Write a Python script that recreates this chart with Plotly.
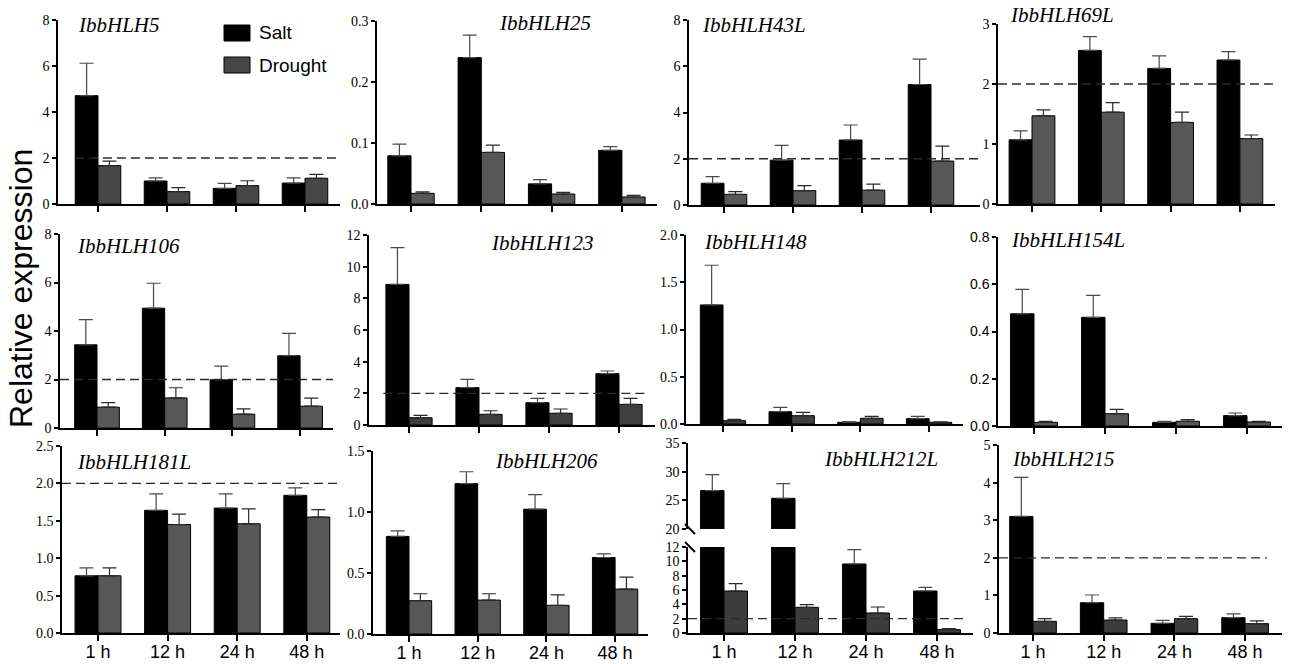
import plotly.graph_objects as go

W, H = 1291, 664

times = ["1 h", "12 h", "24 h", "48 h"]
genes = ["IbbHLH5", "IbbHLH25", "IbbHLH43L", "IbbHLH69L",
         "IbbHLH106", "IbbHLH123", "IbbHLH148", "IbbHLH154L",
         "IbbHLH181L", "IbbHLH206", "IbbHLH212L", "IbbHLH215"]

# ---- data: mean and upper SD ----
IbbHLH5_salt = [4.71, 1.00, 0.68, 0.91]
IbbHLH5_salt_sd = [1.41, 0.14, 0.22, 0.23]
IbbHLH5_drought = [1.67, 0.54, 0.80, 1.12]
IbbHLH5_drought_sd = [0.19, 0.17, 0.21, 0.17]

IbbHLH25_salt = [0.079, 0.240, 0.033, 0.088]
IbbHLH25_salt_sd = [0.019, 0.037, 0.007, 0.006]
IbbHLH25_drought = [0.0175, 0.0846, 0.0164, 0.0115]
IbbHLH25_drought_sd = [0.0025, 0.012, 0.0026, 0.0025]

IbbHLH43L_salt = [0.94, 1.94, 2.81, 5.21]
IbbHLH43L_salt_sd = [0.29, 0.64, 0.65, 1.10]
IbbHLH43L_drought = [0.46, 0.62, 0.64, 1.90]
IbbHLH43L_drought_sd = [0.12, 0.22, 0.26, 0.65]

IbbHLH69L_salt = [1.07, 2.56, 2.26, 2.40]
IbbHLH69L_salt_sd = [0.15, 0.23, 0.21, 0.14]
IbbHLH69L_drought = [1.47, 1.53, 1.36, 1.09]
IbbHLH69L_drought_sd = [0.10, 0.16, 0.17, 0.06]

IbbHLH106_salt = [3.43, 4.94, 1.99, 2.98]
IbbHLH106_salt_sd = [1.04, 1.03, 0.56, 0.92]
IbbHLH106_drought = [0.86, 1.24, 0.57, 0.90]
IbbHLH106_drought_sd = [0.19, 0.42, 0.22, 0.33]

IbbHLH123_salt = [8.88, 2.36, 1.41, 3.24]
IbbHLH123_salt_sd = [2.32, 0.52, 0.27, 0.17]
IbbHLH123_drought = [0.46, 0.67, 0.74, 1.30]
IbbHLH123_drought_sd = [0.15, 0.23, 0.27, 0.38]

IbbHLH148_salt = [1.26, 0.13, 0.018, 0.056]
IbbHLH148_salt_sd = [0.42, 0.046, 0.007, 0.025]
IbbHLH148_drought = [0.035, 0.088, 0.060, 0.018]
IbbHLH148_drought_sd = [0.015, 0.035, 0.021, 0.006]

IbbHLH154L_salt = [0.475, 0.46, 0.0155, 0.044]
IbbHLH154L_salt_sd = [0.103, 0.093, 0.0045, 0.011]
IbbHLH154L_drought = [0.0155, 0.052, 0.020, 0.017]
IbbHLH154L_drought_sd = [0.0045, 0.018, 0.007, 0.003]

IbbHLH181L_salt = [0.765, 1.64, 1.67, 1.84]
IbbHLH181L_salt_sd = [0.105, 0.22, 0.19, 0.10]
IbbHLH181L_drought = [0.765, 1.45, 1.46, 1.55]
IbbHLH181L_drought_sd = [0.105, 0.14, 0.20, 0.10]

IbbHLH206_salt = [0.80, 1.233, 1.023, 0.627]
IbbHLH206_salt_sd = [0.045, 0.097, 0.12, 0.03]
IbbHLH206_drought = [0.273, 0.278, 0.235, 0.368]
IbbHLH206_drought_sd = [0.057, 0.052, 0.085, 0.098]

IbbHLH212L_salt = [26.7, 25.35, 9.63, 5.86]
IbbHLH212L_salt_sd = [2.8, 2.55, 2.0, 0.51]
IbbHLH212L_drought = [5.86, 3.58, 2.79, 0.47]
IbbHLH212L_drought_sd = [1.02, 0.37, 0.84, 0.13]

IbbHLH215_salt = [3.10, 0.805, 0.257, 0.407]
IbbHLH215_salt_sd = [1.04, 0.205, 0.079, 0.103]
IbbHLH215_drought = [0.31, 0.345, 0.38, 0.248]
IbbHLH215_drought_sd = [0.07, 0.055, 0.06, 0.072]

threshold = 2

salt_series = [IbbHLH5_salt, IbbHLH25_salt, IbbHLH43L_salt, IbbHLH69L_salt,
               IbbHLH106_salt, IbbHLH123_salt, IbbHLH148_salt, IbbHLH154L_salt,
               IbbHLH181L_salt, IbbHLH206_salt, IbbHLH212L_salt, IbbHLH215_salt]
salt_sds = [IbbHLH5_salt_sd, IbbHLH25_salt_sd, IbbHLH43L_salt_sd, IbbHLH69L_salt_sd,
            IbbHLH106_salt_sd, IbbHLH123_salt_sd, IbbHLH148_salt_sd, IbbHLH154L_salt_sd,
            IbbHLH181L_salt_sd, IbbHLH206_salt_sd, IbbHLH212L_salt_sd, IbbHLH215_salt_sd]
drought_series = [IbbHLH5_drought, IbbHLH25_drought, IbbHLH43L_drought, IbbHLH69L_drought,
                  IbbHLH106_drought, IbbHLH123_drought, IbbHLH148_drought, IbbHLH154L_drought,
                  IbbHLH181L_drought, IbbHLH206_drought, IbbHLH212L_drought, IbbHLH215_drought]
drought_sds = [IbbHLH5_drought_sd, IbbHLH25_drought_sd, IbbHLH43L_drought_sd, IbbHLH69L_drought_sd,
               IbbHLH106_drought_sd, IbbHLH123_drought_sd, IbbHLH148_drought_sd, IbbHLH154L_drought_sd,
               IbbHLH181L_drought_sd, IbbHLH206_drought_sd, IbbHLH212L_drought_sd, IbbHLH215_drought_sd]

# ---- layout (pixels): x_left, x_right, first_tick, tick_step, y_top, y_bottom ----
geom = [
    (58, 340, 98, 69.0, 20, 204),
    (377, 657, 411, 70.3, 21, 204),
    (689, 980, 724, 69.0, 20, 205),
    (998, 1275, 1032, 69.3, 24, 204),
    (60, 333, 97, 67.7, 234, 428),
    (369, 655, 409, 70.0, 235, 425),
    (686, 963, 723, 68.7, 235, 424),
    (998, 1282, 1034, 71.0, 237, 426),
    (62, 340, 98, 69.6, 446, 633),
    (373, 648, 409, 68.7, 451, 634),
    (688, 973, 724, 71.0, 547, 633),
    (999, 1282, 1033, 70.7, 445, 633),
]
upper11 = (443, 529)  # broken-axis upper part of IbbHLH212L
yax = [  # (max, dtick, tickformat)
    (8, 2, "d"), (0.3, 0.1, ".1f"), (8, 2, "d"), (3, 1, "d"),
    (8, 2, "d"), (12, 2, "d"), (2.0, 0.5, ".1f"), (0.8, 0.2, ".1f"),
    (2.5, 0.5, ".1f"), (1.5, 0.5, ".1f"), (12, 2, "d"), (5, 1, "d"),
]
title_pos = [(76, 25), (497, 23), (700, 25), (1008, 15),
             (75, 246), (489, 243), (702, 242), (1009, 240),
             (75, 462), (493, 461), (822, 459), (1010, 459)]
dash_span = [(0.06, 1.0), None, (0.0, 1.0), (0.0, 1.0),
             (0.0, 1.0), (0.05, 0.97), None, None,
             (0.0, 1.0), None, (0.0, 0.965), (0.0, 0.947)]
drought_color = ["#464646", "#575757", "#575757", "#575757",
                 "#575757", "#3f3f3f", "#3f3f3f", "#575757",
                 "#575757", "#575757", "#3c3c3c", "#3c3c3c"]

SERIF = "Liberation Serif"
SANS = "Liberation Sans"

fig = go.Figure()
layout = dict(width=W, height=H, margin=dict(l=0, r=0, t=0, b=0, pad=0),
              paper_bgcolor="white", plot_bgcolor="white",
              barmode="group", bargap=0.34, bargroupgap=0,
              showlegend=False, shapes=[], annotations=[])


def err(arr, color):
    return dict(type="data", array=arr, arrayminus=[0] * len(arr), symmetric=False,
                color=color, thickness=1.2, width=7)


def add_pair(i, xname, yname):
    fig.add_trace(go.Bar(x=times, y=salt_series[i], name="Salt",
                         marker=dict(color="black", line=dict(color="black", width=1)),
                         error_y=err(salt_sds[i], "#4a4a4a"),
                         xaxis=xname, yaxis=yname))
    fig.add_trace(go.Bar(x=times, y=drought_series[i], name="Drought",
                         marker=dict(color=drought_color[i], line=dict(color="black", width=1)),
                         error_y=err(drought_sds[i], "#2a2a2a"),
                         xaxis=xname, yaxis=yname))


for i in range(12):
    n = i + 1
    x0, x1, t0, s, top, bot = geom[i]
    xr = [(x0 - t0) / s, (x1 - t0) / s]
    ymax, dt, tf = yax[i]
    xname = "x" if n == 1 else f"x{n}"
    yname = "y" if n == 1 else f"y{n}"
    xkey = "xaxis" if n == 1 else f"xaxis{n}"
    ykey = "yaxis" if n == 1 else f"yaxis{n}"
    bottom_row = i >= 8
    layout[xkey] = dict(domain=[x0 / W, x1 / W], range=xr, anchor=yname,
                        type="category", showline=True, linecolor="black", linewidth=2,
                        ticks="outside", ticklen=6, tickwidth=1.5, tickcolor="black",
                        showticklabels=bottom_row, ticklabelstandoff=-5,
                        showgrid=False, zeroline=False, automargin=False,
                        tickfont=dict(family=SANS, size=18, color="black"), fixedrange=True)
    layout[ykey] = dict(domain=[1 - bot / H, 1 - top / H], range=[0, ymax], anchor=xname,
                        tick0=0, dtick=dt, tickformat=tf,
                        showline=True, linecolor="black", linewidth=1.5,
                        ticks="outside", ticklen=4, tickwidth=1.5, tickcolor="black",
                        showgrid=False, zeroline=False, automargin=False,
                        tickfont=dict(family=SANS if n == 8 else SERIF, size=14, color="black"),
                        fixedrange=True)
    add_pair(i, xname, yname)

    if dash_span[i] is not None:
        a, b = dash_span[i]
        layout["shapes"].append(dict(type="line", xref=f"{xname} domain", yref=yname,
                                     x0=a, x1=b, y0=threshold, y1=threshold,
                                     line=dict(color="#2a2a2a", width=1.3, dash="9px,5px"),
                                     layer="above"))
    tx, ty = title_pos[i]
    layout["annotations"].append(dict(text=genes[i], x=tx / W, y=1 - ty / H,
                                      xref="paper", yref="paper", xanchor="left",
                                      yanchor="middle", showarrow=False,
                                      font=dict(family=SERIF, size=21, color="black",
                                                style="italic")))

# upper part of the broken axis (IbbHLH212L)
x0, x1, t0, s, _, _ = geom[10]
layout["xaxis13"] = dict(domain=[x0 / W, x1 / W], range=[(x0 - t0) / s, (x1 - t0) / s],
                         anchor="y13", type="category", visible=False, fixedrange=True)
layout["yaxis13"] = dict(domain=[1 - upper11[1] / H, 1 - upper11[0] / H], range=[20, 35],
                         anchor="x13", tick0=20, dtick=5,
                         showline=True, linecolor="black", linewidth=1.5,
                         ticks="outside", ticklen=4, tickwidth=1.5, tickcolor="black",
                         showgrid=False, zeroline=False, automargin=False,
                         tickfont=dict(family=SERIF, size=14, color="black"), fixedrange=True)
add_pair(10, "x13", "y13")

# break marks
for (bx0, by0, bx1, by1) in [(685, 524, 695, 534), (685, 542, 695, 552)]:
    layout["shapes"].append(dict(type="line", xref="paper", yref="paper",
                                 x0=bx0 / W, x1=bx1 / W, y0=1 - by0 / H, y1=1 - by1 / H,
                                 line=dict(color="black", width=2)))

# legend drawn in panel 1
for (label, color, ytop, ybot) in [("Salt", "black", 25, 41), ("Drought", "#464646", 57, 73)]:
    layout["shapes"].append(dict(type="rect", xref="paper", yref="paper",
                                 x0=224 / W, x1=250 / W, y0=1 - ybot / H, y1=1 - ytop / H,
                                 fillcolor=color, line=dict(color="black", width=1)))
    layout["annotations"].append(dict(text=label, x=257 / W, y=1 - (ytop + ybot) / 2 / H,
                                      xref="paper", yref="paper", xanchor="left",
                                      yanchor="middle", showarrow=False,
                                      font=dict(family=SANS, size=19, color="black")))

layout["annotations"].append(dict(text="Relative expression", x=21 / W, y=1 - 289 / H,
                                  xref="paper", yref="paper", xanchor="center",
                                  yanchor="middle", textangle=-90, showarrow=False,
                                  font=dict(family=SANS, size=32, color="black")))

fig.update_layout(**layout)
fig.write_html("out.html", config={"displayModeBar": False},
               post_script="document.body.style.margin='0';document.body.style.overflow='hidden';")
